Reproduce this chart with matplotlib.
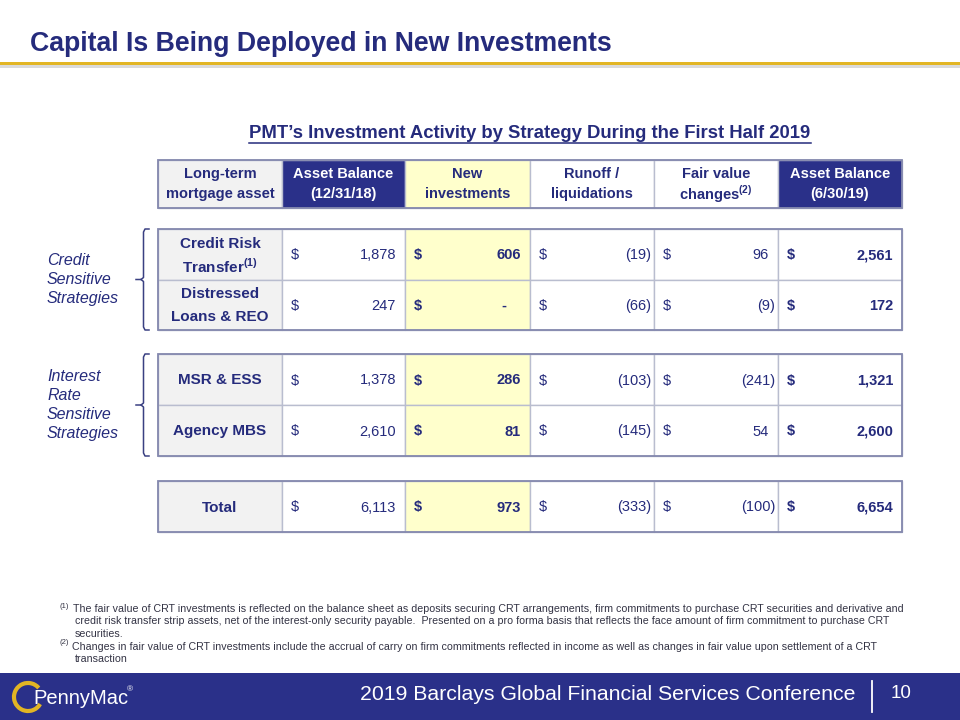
import matplotlib
matplotlib.use("Agg")
import matplotlib.pyplot as plt
from matplotlib.patches import Rectangle, Arc

plt.rcParams["font.family"] = ["Liberation Sans", "DejaVu Sans"]
plt.rcParams["mathtext.fontset"] = "custom"
plt.rcParams["mathtext.rm"] = "Liberation Sans"
plt.rcParams["mathtext.bf"] = "Liberation Sans:bold"

# ---- data ----
headers = [
    "Long-term\nmortgage asset",
    "Asset Balance\n(12/31/18)",
    "New\ninvestments",
    "Runoff /\nliquidations",
    "Fair value\nchanges$^{\\mathbf{(2)}}$",
    "Asset Balance\n(6/30/19)",
]
strategies = [
    "Credit Risk\nTransfer$^{\\mathbf{(1)}}$",
    "Distressed\nLoans & REO",
    "MSR & ESS",
    "Agency MBS",
    "Total",
]
balance_2018 = [1878, 247, 1378, 2610, 6113]
new_investments = [606, 0, 286, 81, 973]
runoff = [-19, -66, -103, -145, -333]
fair_value_changes = [96, -9, -241, 54, -100]
balance_2019 = [2561, 172, 1321, 2600, 6654]

groups = ["Credit\nSensitive\nStrategies", "Interest\nRate\nSensitive\nStrategies"]

footnote_1 = [
    "The fair value of CRT investments is reflected on the balance sheet as deposits securing CRT arrangements, firm commitments to purchase CRT securities and derivative and",
    "credit risk transfer strip assets, net of the interest-only security payable.  Presented on a pro forma basis that reflects the face amount of firm commitment to purchase CRT",
    "securities.",
]
footnote_2 = [
    "Changes in fair value of CRT investments include the accrual of carry on firm commitments reflected in income as well as changes in fair value upon settlement of a CRT",
    "transaction",
]

title = "Capital Is Being Deployed in New Investments"
subtitle = "PMT\u2019s Investment Activity by Strategy During the First Half 2019"
conference = "2019 Barclays Global Financial Services Conference"
page_no = "10"

# ---- style ----
NAVY = "#252B7C"
BAR = "#2A3089"
GOLD = "#E2B524"
YELLOW = "#FFFFCC"
GRAY = "#F2F2F2"
INNER = "#B9BDCF"
OUTER = "#8488AE"

col_edges = [158, 282, 405, 530, 654, 778, 902]
header_fill = [GRAY, BAR, YELLOW, "white", "white", BAR]
header_text = [NAVY, "white", NAVY, NAVY, NAVY, "white"]
body_fill = [GRAY, "white", YELLOW, "white", "white", "white"]
bold_cols = [False, True, False, False, True]
blocks = [(229, 330, [0, 1]), (354, 456, [2, 3]), (481, 532, [4])]


def fmt(v):
    if v == 0:
        return "-"
    if v < 0:
        return "({:,})".format(-v)
    return "{:,}".format(v)


def multiline(ax, x, yc, s, spacing, **kw):
    lines = s.split("\n")
    n = len(lines)
    for i, ln in enumerate(lines):
        y = yc + (i - (n - 1) / 2) * spacing
        ax.text(x, y, ln, va="center", **kw)


fig = plt.figure(figsize=(9.6, 7.2), dpi=100)
ax = fig.add_axes([0, 0, 1, 1])
ax.set_xlim(0, 960)
ax.set_ylim(720, 0)
ax.axis("off")

# title + gold rule
ax.text(30, 44, title, fontsize=19.2, fontweight="bold", color=NAVY, va="center")
ax.add_patch(Rectangle((0, 64), 960, 4, color="#DADADA", lw=0))
ax.add_patch(Rectangle((0, 61.5), 960, 3, color=GOLD, lw=0))

# subtitle with underline
st = ax.text(530, 133, subtitle, fontsize=13.3, fontweight="bold", color=NAVY,
             ha="center", va="center")
fig.canvas.draw()
bb = st.get_window_extent().transformed(ax.transData.inverted())
ax.plot([bb.x0, bb.x1], [142.5, 142.5], color=NAVY, lw=1.1)

# header row
for j in range(6):
    x0, x1 = col_edges[j], col_edges[j + 1]
    ax.add_patch(Rectangle((x0, 160), x1 - x0, 48, facecolor=header_fill[j],
                           edgecolor=INNER, lw=1))
    multiline(ax, (x0 + x1) / 2, 184, headers[j], 20, ha="center",
              fontsize=10.5, fontweight="bold", color=header_text[j])
ax.add_patch(Rectangle((158, 160), 744, 48, fill=False, edgecolor=OUTER, lw=1.3))

# body blocks
columns = [balance_2018, new_investments, runoff, fair_value_changes, balance_2019]
for top, bot, rows in blocks:
    h = (bot - top) / len(rows)
    for k, r in enumerate(rows):
        y0 = top + k * h
        yc = y0 + h / 2
        for j in range(6):
            x0, x1 = col_edges[j], col_edges[j + 1]
            ax.add_patch(Rectangle((x0, y0), x1 - x0, h, facecolor=body_fill[j],
                                   edgecolor=INNER, lw=1))
        multiline(ax, (col_edges[0] + col_edges[1]) / 2, yc + 1, strategies[r], 23,
                  ha="center", fontsize=11, fontweight="bold", color=NAVY)
        for c, vals in enumerate(columns):
            x0, x1 = col_edges[c + 1], col_edges[c + 2]
            w = "bold" if bold_cols[c] else "normal"
            v = vals[r]
            ax.text(x0 + 9, yc + 1, "$", fontsize=10.5, fontweight=w, color=NAVY,
                    va="center", ha="left")
            if v == 0:
                xr = x1 - 24
            elif v < 0:
                xr = x1 - 3
            else:
                xr = x1 - 9
            ax.text(xr, yc + 1, fmt(v), fontsize=10.5, fontweight=w, color=NAVY,
                    va="center", ha="right")
    ax.add_patch(Rectangle((158, top), 744, bot - top, fill=False,
                           edgecolor=OUTER, lw=1.3))

# group braces and labels
for (top, bot, _), label in zip(blocks[:2], groups):
    mid = (top + bot) / 2
    ax.plot([149, 145, 143.5, 143.5, 141, 136], [top, top, top + 3, mid - 2, mid, mid],
            color="#3A4082", lw=1.1)
    ax.plot([149, 145, 143.5, 143.5, 141], [bot, bot, bot - 3, mid + 2, mid],
            color="#3A4082", lw=1.1)
    multiline(ax, 47, mid, label, 19, ha="left", fontsize=11.5, style="italic",
              color=NAVY)

# footnotes
fn_color = "#333344"
ax.text(60, 606, "(1)", fontsize=5.5, color=fn_color, va="center")
for i, ln in enumerate(footnote_1):
    ax.text(73 if i == 0 else 75, 609 + i * 12.5, ln, fontsize=7.65, color=fn_color,
            va="center")
ax.text(60, 643, "(2)", fontsize=5.5, color=fn_color, va="center")
for i, ln in enumerate(footnote_2):
    ax.text(72 if i == 0 else 75, 647 + i * 12.5, ln, fontsize=7.65, color=fn_color,
            va="center")

# bottom bar
ax.add_patch(Rectangle((0, 673), 960, 47, color=BAR, lw=0))
ax.text(855, 695, conference, fontsize=15.3, color="white", ha="right", va="center")
ax.plot([872, 872], [681, 712], color="white", lw=1.3)
ax.text(891, 693, page_no, fontsize=13.5, color="white", ha="left", va="center")

# logo
ax.add_patch(Arc((28, 697), 28, 28, theta1=30, theta2=320, color=GOLD, lw=3))
ax.text(33, 699, "PennyMac", fontsize=14.5, color="white", va="center", ha="left")
ax.text(127, 690, "\u00ae", fontsize=6, color="white", va="center")

fig.savefig("out.png", dpi=100)
